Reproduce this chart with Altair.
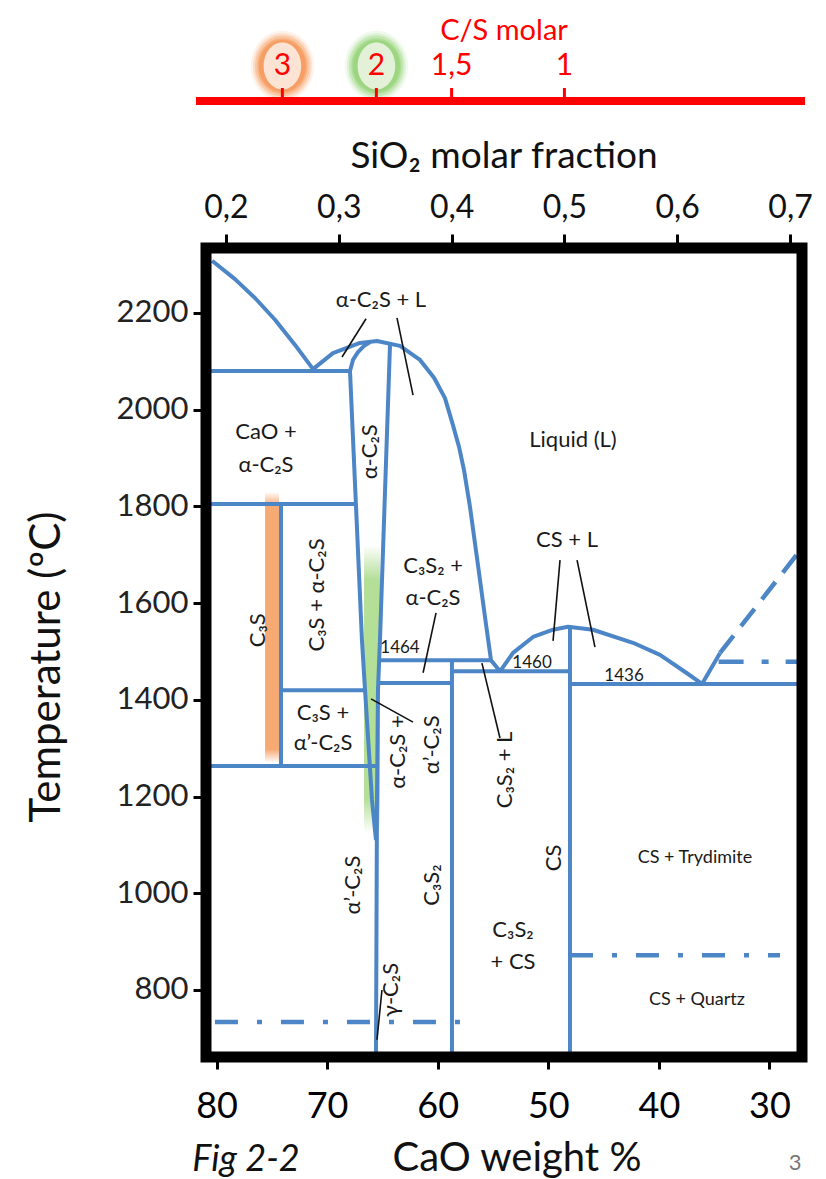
import altair as alt
import pandas as pd

BLUE = "#4d86c6"
RED = "#ff0000"
FONT = "Lato, 'Noto Sans', 'DejaVu Sans', sans-serif"

# ---------------- axis ticks ----------------
cao_ticks = [80, 70, 60, 50, 40, 30]
temp_ticks = [800, 1000, 1200, 1400, 1600, 1800, 2000, 2200]
sio2_ticks = [0.2, 0.3, 0.4, 0.5, 0.6, 0.7]
cs_values = [3, 2, 1.5, 1]
cs_labels = ["3", "2", "1,5", "1"]
glow_cs = [3, 2]
glow_colors = ["#f59a5c", "#98d47a"]
glow_inner = ["#fbe4d4", "#e3f1d8"]
cs_line_extent = [0.1734, 0.7133]

# ---------------- phase boundaries: CaO wt% (c) / temperature degC (t) ----------------
cao_liq_c = [80.4, 78.33, 76.52, 74.71, 72.90, 71.27]
cao_liq_t = [2308, 2270, 2231, 2186, 2134, 2084]
iso2080_c = [80.95, 67.93]
iso2080_t = [2080, 2080]
c2s_liq_c = [71.27, 69.47, 67.03, 65.49, 63.41, 61.60, 60.33, 59.34, 58.62, 58.07, 57.62, 57.08, 56.36, 55.72, 55.18, 54.37]
c2s_liq_t = [2084, 2117, 2138, 2142, 2132, 2103, 2066, 2024, 1968, 1923, 1875, 1799, 1679, 1571, 1482, 1459]
dome_in_c = [67.93, 67.66, 67.21, 66.66, 66.12]
dome_in_t = [2080, 2103, 2119, 2132, 2140]
c2s_right_c = [64.31, 65.22, 65.40, 65.49, 65.58]
c2s_right_t = [2136, 1524, 1420, 1193, 661]
c2s_left_c = [67.93, 66.85, 66.57, 65.94, 65.58]
c2s_left_t = [2080, 1524, 1420, 1193, 1110]
iso1800_c = [80.95, 67.39]
iso1800_t = [1805, 1805]
c3s_c = [74.17, 74.17]
c3s_t = [1805, 1263]
iso1420_c = [74.17, 66.57]
iso1420_t = [1420, 1420]
iso1263_c = [80.95, 65.58]
iso1263_t = [1263, 1263]
iso1464_c = [65.35, 55.18]
iso1464_t = [1482, 1482]
iso1435_c = [65.40, 58.71]
iso1435_t = [1435, 1435]
c3s2_c = [58.71, 58.71]
c3s2_t = [1482, 661]
iso1460_c = [58.71, 48.04]
iso1460_t = [1459, 1459]
cs_c = [48.04, 48.04]
cs_t = [1551, 661]
cs_liq_c = [54.37, 53.19, 51.38, 49.57, 48.22, 45.96, 42.34, 39.90, 37.46, 36.10]
cs_liq_t = [1459, 1497, 1530, 1545, 1551, 1545, 1518, 1493, 1455, 1433]
iso1436_c = [48.04, 27.06]
iso1436_t = [1433, 1433]
trid_liq_c = [36.10, 34.47]
trid_liq_t = [1433, 1497]
# dashed / dash-dot
trid_dash_c = [34.47, 27.06]
trid_dash_t = [1497, 1714]
dd1470_c = [34.6, 27.06]
dd1470_t = [1479, 1479]
dd867_c = [48.04, 29.05]
dd867_t = [872, 872]
dd725_c = [80.14, 57.8]
dd725_t = [734, 734]

# ---------------- leader lines ----------------
lead_c = [[66.48, 68.65], [63.68, 62.23], [60.15, 61.32], [66.03, 62.23],
          [56.0, 54.37], [48.94, 49.57], [47.40, 45.78], [65.04, 65.49]]
lead_t = [[2188, 2109], [2190, 2030], [1580, 1456], [1402, 1354],
          [1476, 1321], [1689, 1522], [1689, 1509], [800, 697]]

# ---------------- highlight bands ----------------
band_c1 = [75.61, 66.66]
band_c2 = [74.35, 65.22]
band_t1 = [1830, 1720]
band_t2 = [1270, 1125]

# ---------------- region labels ----------------
lab_text = ["CaO +", "α-C₂S", "α-C₂S + L", "Liquid (L)", "C₃S₂ +", "α-C₂S", "CS + L",
            "C₃S +", "α’-C₂S", "C₃S₂", "+ CS"]
lab_c = [75.52, 75.52, 65.13, 47.77, 60.42, 60.42, 48.31, 70.37, 70.37, 53.19, 53.19]
lab_t = [1954, 1886, 2227, 1937, 1677, 1611, 1731, 1373, 1311, 924, 858]
small_text = ["CS + Trydimite", "CS + Quartz"]
small_c = [36.74, 36.56]
small_t = [1073, 779]
rot_text = ["α-C₂S", "C₃S + α-C₂S", "C₃S", "α-C₂S +", "α’-C₂S", "C₃S₂ + L",
            "α’-C₂S", "C₃S₂", "CS", "γ-C₂S"]
rot_c = [66.12, 70.91, 76.25, 63.59, 60.51, 53.92, 67.66, 60.51, 49.48, 64.22]
rot_t = [1913, 1617, 1544, 1292, 1307, 1255, 1017, 1017, 1073, 800]
num_text = ["1464", "1460", "1436"]
num_c = [63.41, 51.47, 43.15]
num_t = [1507, 1476, 1449]


def seg_frame(segs):
    rows = []
    for name, cs, ts in segs:
        for i, (c, t) in enumerate(zip(cs, ts)):
            rows.append({"seg": name, "ord": i, "c": c, "t": t})
    return pd.DataFrame(rows)


solid_df = seg_frame([
    ("cao_liq", cao_liq_c, cao_liq_t), ("iso2080", iso2080_c, iso2080_t),
    ("c2s_liq", c2s_liq_c, c2s_liq_t), ("dome_in", dome_in_c, dome_in_t),
    ("c2s_r", c2s_right_c, c2s_right_t), ("c2s_l", c2s_left_c, c2s_left_t),
    ("iso1800", iso1800_c, iso1800_t), ("c3s", c3s_c, c3s_t),
    ("iso1420", iso1420_c, iso1420_t), ("iso1263", iso1263_c, iso1263_t),
    ("iso1464", iso1464_c, iso1464_t), ("iso1435", iso1435_c, iso1435_t),
    ("c3s2", c3s2_c, c3s2_t), ("iso1460", iso1460_c, iso1460_t),
    ("cs", cs_c, cs_t), ("cs_liq", cs_liq_c, cs_liq_t),
    ("iso1436", iso1436_c, iso1436_t), ("trid", trid_liq_c, trid_liq_t),
])
dash_df = seg_frame([("trid_dash", trid_dash_c, trid_dash_t)])
dd_a_df = seg_frame([("dd1470", dd1470_c, dd1470_t)])
dd_b_df = seg_frame([("dd867", dd867_c, dd867_t), ("dd725", dd725_c, dd725_t)])
lead_df = seg_frame([(f"l{i}", c, t) for i, (c, t) in enumerate(zip(lead_c, lead_t))])
band_df = pd.DataFrame({"c1": band_c1, "c2": band_c2, "t1": band_t1, "t2": band_t2})

W, H = 596, 809

x_scale = alt.Scale(domain=[27.06, 80.95], reverse=True, nice=False, zero=False)
y_scale = alt.Scale(domain=[661.4, 2334.4], nice=False, zero=False)
x_axis = alt.Axis(orient="bottom", values=cao_ticks, title=None, tickSize=12, tickWidth=3,
                  tickColor="black", labelFontSize=36, labelPadding=20, labelColor="black",
                  labelFont=FONT, domain=False, grid=False)
y_axis = alt.Axis(values=temp_ticks, format="d", title=None, tickSize=13, tickWidth=3,
                  tickColor="black", labelFontSize=31, labelPadding=5, labelColor="#222222",
                  labelFont=FONT, domain=False, grid=False)


def X(field):
    return alt.X(field, type="quantitative", scale=x_scale, axis=x_axis)


def Y(field):
    return alt.Y(field, type="quantitative", scale=y_scale, axis=y_axis)


def lines(df, **kw):
    return alt.Chart(df).mark_line(color=BLUE, strokeJoin="round", **kw).encode(
        x=X("c"), y=Y("t"), detail="seg:N", order="ord:Q")


orange_grad = alt.Gradient(gradient="linear", x1=0, x2=0, y1=0, y2=1, stops=[
    alt.GradientStop(offset=0, color="rgba(245,160,100,0)"),
    alt.GradientStop(offset=0.05, color="rgba(245,160,100,0.9)"),
    alt.GradientStop(offset=0.95, color="rgba(245,160,100,0.9)"),
    alt.GradientStop(offset=1, color="rgba(245,160,100,0)")])
green_grad = alt.Gradient(gradient="linear", x1=0, x2=0, y1=0, y2=1, stops=[
    alt.GradientStop(offset=0, color="rgba(160,215,125,0)"),
    alt.GradientStop(offset=0.12, color="rgba(160,215,125,0.8)"),
    alt.GradientStop(offset=0.88, color="rgba(160,215,125,0.8)"),
    alt.GradientStop(offset=1, color="rgba(160,215,125,0)")])

band_o = alt.Chart(band_df.iloc[[0]]).mark_rect(fill=orange_grad).encode(
    x=X("c1"), x2="c2", y=Y("t1"), y2="t2")
band_g = alt.Chart(band_df.iloc[[1]]).mark_rect(fill=green_grad).encode(
    x=X("c1"), x2="c2", y=Y("t1"), y2="t2")

solid = lines(solid_df, strokeWidth=4)
dashed = lines(dash_df, strokeWidth=4.5, strokeDash=[22, 12])
dd_a = lines(dd_a_df, strokeWidth=4.5, strokeDash=[25, 18, 7, 17])
dd_b = lines(dd_b_df, strokeWidth=4.5, strokeDash=[23, 19, 5, 19])
leaders = alt.Chart(lead_df).mark_line(color="#111111", strokeWidth=1.6).encode(
    x=X("c"), y=Y("t"), detail="seg:N", order="ord:Q")

lab_df = pd.DataFrame({"label": lab_text, "c": lab_c, "t": lab_t})
small_df = pd.DataFrame({"label": small_text, "c": small_c, "t": small_t})
rot_df = pd.DataFrame({"label": rot_text, "c": rot_c, "t": rot_t})
num_df = pd.DataFrame({"label": num_text, "c": num_c, "t": num_t})
labels = alt.Chart(lab_df).mark_text(font=FONT, fontSize=22, color="#1a1a1a").encode(
    x=X("c"), y=Y("t"), text="label:N")
slabels = alt.Chart(small_df).mark_text(font=FONT, fontSize=18, color="#1a1a1a").encode(
    x=X("c"), y=Y("t"), text="label:N")
rlabels = alt.Chart(rot_df).mark_text(font=FONT, fontSize=22, color="#1a1a1a", angle=270).encode(
    x=X("c"), y=Y("t"), text="label:N")
nlabels = alt.Chart(num_df).mark_text(font=FONT, fontSize=17, color="#1a1a1a").encode(
    x=X("c"), y=Y("t"), text="label:N")

one = pd.DataFrame({"k": [0]})
frame = alt.Chart(one).mark_rect(fillOpacity=0, stroke="black", strokeWidth=11).encode(
    x=alt.value(0), x2=alt.value(W), y=alt.value(0), y2=alt.value(H))


def title_text(text, px, py, size, **kw):
    return alt.Chart(one).mark_text(text=text, font=FONT, fontSize=size, **kw).encode(
        x=alt.value(px), y=alt.value(py))


t_ytitle = title_text("Temperature (ºC)", -159, 419, 42, angle=270, color="#111111")
t_xtitle = title_text("CaO weight %", 311, 911, 40, color="#111111")
t_fig = title_text("Fig 2-2", 40, 912, 36, fontStyle="italic", color="#111111")
t_page = title_text("3", 589, 915, 22, color="#777777")
t_sio2 = title_text("SiO₂ molar fraction", 298, -91, 37, color="#111111")
t_cs = title_text("C/S molar", 298, -217, 29, color=RED)

main = alt.layer(band_o, band_g, solid, dashed, dd_a, dd_b, leaders, labels, slabels, rlabels,
                 nlabels, frame, t_ytitle, t_xtitle, t_fig, t_page, t_sio2, t_cs)

# ---------------- top axes (SiO2 molar fraction & C/S molar) ----------------
f_scale = alt.Scale(domain=[0.1823, 0.7106], nice=False, zero=False)
top_axis = alt.Axis(orient="top", values=sio2_ticks, title=None, tickSize=14, tickWidth=3,
                    tickColor="black", labelFontSize=32, labelPadding=10, labelColor="#111111",
                    labelFont=FONT, domain=False, grid=False,
                    labelExpr="replace(format(datum.value, '.1f'), '.', ',')")


def XF(field):
    return alt.X(field, type="quantitative", scale=f_scale, axis=top_axis)


cs_df = pd.DataFrame({"cs": cs_values, "label": cs_labels})
glow_df = pd.DataFrame({"cs": glow_cs, "glow": glow_colors, "inner": glow_inner})

ELL_GLOW = "M 0 -1 A 0.9 1 0 1 1 0 1 A 0.9 1 0 1 1 0 -1 Z"
ELL_IN = "M 0 -1 A 0.8 1 0 1 1 0 1 A 0.8 1 0 1 1 0 -1 Z"

glow_layers = []
for size, op in [(5000, 0.12), (4300, 0.22), (3700, 0.35), (3100, 0.55), (2700, 0.8)]:
    glow_layers.append(
        alt.Chart(glow_df).transform_calculate(f="1/(1+datum.cs)")
        .mark_point(shape=ELL_GLOW, filled=True, size=size, opacity=op, strokeWidth=0)
        .encode(x=XF("f"), y=alt.value(-182), color=alt.Color("glow:N", scale=None)))
glow_layers.append(
    alt.Chart(glow_df).transform_calculate(f="1/(1+datum.cs)")
    .mark_point(shape=ELL_IN, filled=True, size=2200, opacity=1, strokeWidth=0)
    .encode(x=XF("f"), y=alt.value(-182), color=alt.Color("inner:N", scale=None)))

line_df = pd.DataFrame({"f0": [cs_line_extent[0]], "f1": [cs_line_extent[1]]})
cs_line = alt.Chart(line_df).mark_rule(color=RED, strokeWidth=8).encode(
    x=XF("f0"), x2="f1", y=alt.value(-147))
cs_ticks = alt.Chart(cs_df).transform_calculate(f="1/(1+datum.cs)").mark_rule(
    color=RED, strokeWidth=3).encode(x=XF("f"), y=alt.value(-160), y2=alt.value(-147))
cs_text = alt.Chart(cs_df).transform_calculate(f="1/(1+datum.cs)").mark_text(
    font=FONT, fontSize=30, color=RED).encode(x=XF("f"), y=alt.value(-182), text="label:N")

top = alt.layer(*glow_layers, cs_line, cs_ticks, cs_text)

chart = alt.layer(main, top).resolve_scale(x="independent").properties(
    width=W, height=H,
    padding={"left": 198, "top": 240, "right": 16, "bottom": 140},
    autosize=alt.AutoSizeParams(type="none"),
).configure_view(stroke=None)

chart.save("out.html", embed_options={"renderer": "svg", "actions": False})
